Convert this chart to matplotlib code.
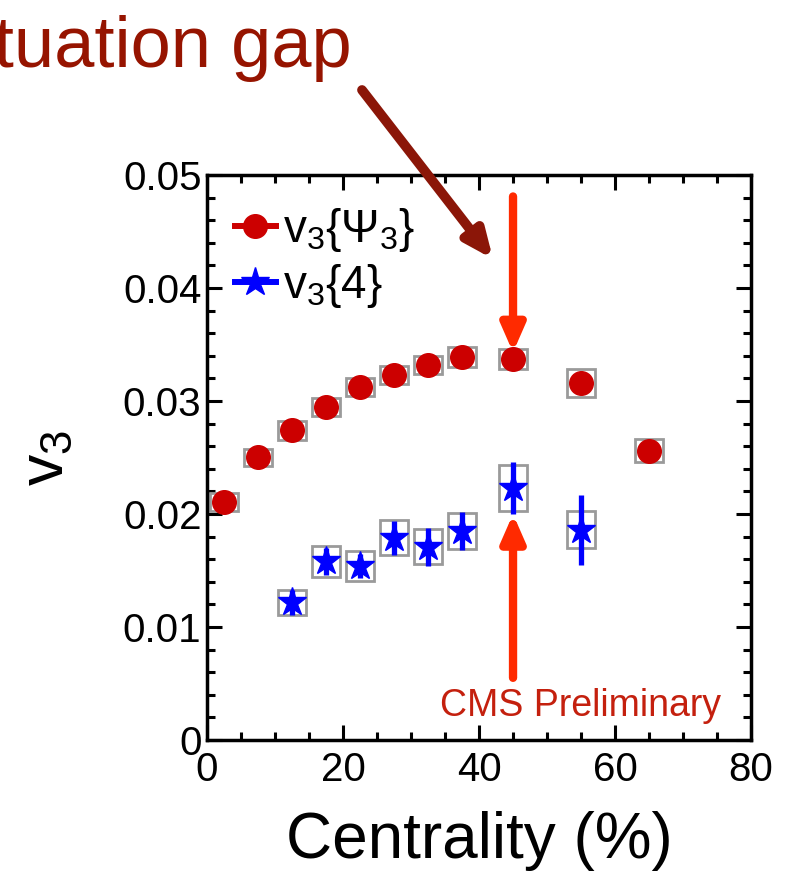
import matplotlib
matplotlib.use("Agg")
import matplotlib.pyplot as plt
from matplotlib.patches import Rectangle
from matplotlib.lines import Line2D
from matplotlib.ticker import MultipleLocator

plt.rcParams['font.family'] = ['Liberation Sans', 'DejaVu Sans']
plt.rcParams['mathtext.fontset'] = 'custom'
plt.rcParams['mathtext.rm'] = 'Liberation Sans'
plt.rcParams['mathtext.it'] = 'Liberation Sans'

# v3{Psi3} (event plane)
cent_ep = [2.5, 7.5, 12.5, 17.5, 22.5, 27.5, 32.5, 37.5, 45, 55, 65]
v3_ep = [0.0211, 0.0250, 0.0274, 0.0295, 0.0312, 0.0323, 0.0332, 0.0339, 0.0337, 0.0316, 0.0256]
v3_ep_sys = [0.0008, 0.00075, 0.00085, 0.0008, 0.0008, 0.0008, 0.0008, 0.0009, 0.0009, 0.00125, 0.001]

# v3{4} (cumulant)
cent_c4 = [12.5, 17.5, 22.5, 27.5, 32.5, 37.5, 45, 55]
v3_c4 = [0.0122, 0.0158, 0.0154, 0.0179, 0.0171, 0.0185, 0.0223, 0.0186]
v3_c4_stat = [0.0011, 0.0012, 0.0011, 0.0015, 0.0017, 0.0017, 0.0023, 0.0031]
v3_c4_sys = [0.0011, 0.00136, 0.00136, 0.00155, 0.00155, 0.0016, 0.002, 0.00165]

box_hw = 2.0  # half width of systematic boxes in centrality units

fig = plt.figure(figsize=(7.95, 8.75), dpi=100)
ax = fig.add_axes([0.2604, 0.1543, 0.6843, 0.6457])

# systematic boxes
for x, y, s in zip(cent_ep, v3_ep, v3_ep_sys):
    ax.add_patch(Rectangle((x - box_hw, y - s), 2 * box_hw, 2 * s, fill=False,
                           edgecolor='#9a9a9a', lw=2.0, zorder=2))
for x, y, s in zip(cent_c4, v3_c4, v3_c4_sys):
    ax.add_patch(Rectangle((x - box_hw, y - s), 2 * box_hw, 2 * s, fill=False,
                           edgecolor='#9a9a9a', lw=2.0, zorder=2))

ax.errorbar(cent_c4, v3_c4, yerr=v3_c4_stat, fmt='none', ecolor='#0000ff',
            elinewidth=3.8, capsize=0, zorder=3)
ax.plot(cent_c4, v3_c4, ls='none', marker='*', ms=21, color='#0000ff', zorder=4)
ax.plot(cent_ep, v3_ep, ls='none', marker='o', ms=17, color='#cc0000', zorder=4)

ax.set_xlim(0, 80)
ax.set_ylim(0, 0.05)
ax.xaxis.set_major_locator(MultipleLocator(20))
ax.xaxis.set_minor_locator(MultipleLocator(5))
ax.yaxis.set_major_locator(MultipleLocator(0.01))
ax.yaxis.set_minor_locator(MultipleLocator(0.002))
ax.set_yticks([0, 0.01, 0.02, 0.03, 0.04, 0.05])
ax.set_yticklabels(['0', '0.01', '0.02', '0.03', '0.04', '0.05'])
ax.tick_params(which='both', direction='in', top=True, right=True, labelsize=29, width=2.2)
ax.tick_params(axis='x', which='major', pad=8)
ax.tick_params(axis='y', which='major', pad=4)
ax.tick_params(which='major', length=11)
ax.tick_params(which='minor', length=6)
for sp in ax.spines.values():
    sp.set_linewidth(2.5)

ax.set_xlabel('Centrality (%)', fontsize=46, labelpad=16)
ax.set_ylabel('v$_3$', fontsize=45, labelpad=34)

handles = [
    Line2D([], [], color='#cc0000', marker='o', ms=17, lw=4.3),
    Line2D([], [], color='#0000ff', marker='*', ms=21, lw=4.3),
]
ax.legend(handles, ['v$_3${Ψ$_3$}', 'v$_3${4}'], loc='upper left',
          bbox_to_anchor=(0, 0.993), frameon=False,
          fontsize=33, handlelength=0.9, handletextpad=0.15, labelspacing=0.17,
          borderaxespad=0.3, borderpad=0.3)

# annotations
ax.text(0.945, 0.042, 'CMS Preliminary', transform=ax.transAxes, ha='right',
        va='baseline', fontsize=27, color='#c4200e')
fig.text(352 / 795, 1 - 67 / 875, 'Fluctuation gap', ha='right', va='baseline',
         fontsize=52, color='#961400')

ax.annotate('', xy=(45, 0.0343), xytext=(45, 0.0481),
            arrowprops=dict(arrowstyle='-|>,head_length=1.6,head_width=0.7',
                            color='#ff2a00', lw=6, shrinkA=0, shrinkB=0))
ax.annotate('', xy=(45, 0.0200), xytext=(45, 0.0055),
            arrowprops=dict(arrowstyle='-|>,head_length=1.6,head_width=0.7',
                            color='#ff2a00', lw=6, shrinkA=0, shrinkB=0))
ax.annotate('', xy=(493 / 795, 1 - 259 / 875), xytext=(362 / 795, 1 - 90 / 875),
            xycoords='figure fraction', textcoords='figure fraction',
            arrowprops=dict(arrowstyle='-|>,head_length=1.6,head_width=0.7',
                            color='#8b1608', lw=7, shrinkA=0, shrinkB=0),
            annotation_clip=False)

fig.savefig('out.png', dpi=100)
